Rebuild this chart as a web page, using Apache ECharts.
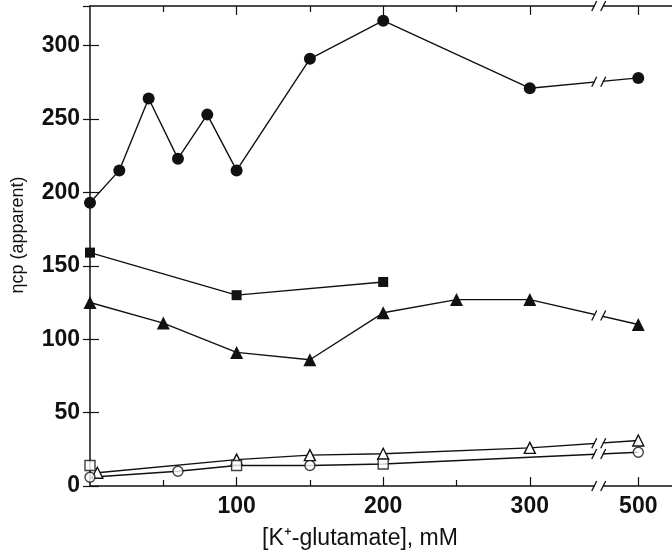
<!DOCTYPE html>
<html>
<head>
<meta charset="utf-8">
<script src="https://cdn.jsdelivr.net/npm/echarts@6/dist/echarts.min.js"></script>
<style>
  html, body { margin: 0; padding: 0; background: #fff; }
  #chart { width: 672px; height: 558px; }
</style>
</head>
<body>
<div id="chart"></div>
<script>
// values ([K+-glutamate] in mM, apparent ncp)
var filledCircleX = [0, 20, 40, 60, 80, 100, 150, 200, 300, 500];
var filledCircleY = [193, 215, 264, 223, 253, 215, 291, 317, 271, 278];
var filledSquareX = [0, 100, 200];
var filledSquareY = [159, 130, 139];
var filledTriangleX = [0, 50, 100, 150, 200, 250, 300, 500];
var filledTriangleY = [125, 111, 91, 86, 118, 127, 127, 110];
var openTriangleX = [5, 100, 150, 200, 300, 500];
var openTriangleY = [9, 18, 21, 22, 26, 31];
var openSquareX = [0, 100, 200];
var openSquareY = [14, 14, 15];
var openCircleX = [0, 60, 150, 500];
var openCircleY = [6, 10, 14, 23];
var xTickLabels = [100, 200, 300, 500];
var xMinorTicks = [50, 150, 250];

// broken x axis: beyond 300 mM the scale is compressed
var BREAK_AT = 300, SQUEEZE = 0.37, BREAK_MARK = 347;
function mapX(v) { return v <= BREAK_AT ? v : BREAK_AT + (v - BREAK_AT) * SQUEEZE; }
function unmapX(m) { return m <= BREAK_AT ? m : Math.round(BREAK_AT + (m - BREAK_AT) / SQUEEZE); }
function pairs(xs, ys) { return xs.map(function (x, i) { return [mapX(x), ys[i]]; }); }

// lower open line runs through circles and the squares after x = 0
var lowerLine = pairs(openCircleX, openCircleY)
  .concat(pairs(openSquareX, openSquareY).filter(function (p) { return p[0] > 0; }))
  .sort(function (a, b) { return a[0] - b[0]; });

// where a line crosses the break mark
function crossAt(data, m) {
  for (var i = 1; i < data.length; i++) {
    if (data[i - 1][0] <= m && data[i][0] >= m) {
      var t = (m - data[i - 1][0]) / (data[i][0] - data[i - 1][0]);
      return [m, data[i - 1][1] + t * (data[i][1] - data[i - 1][1])];
    }
  }
  return null;
}

var X_MAX = 397, Y_MAX = 327;
var lineSets = [pairs(filledCircleX, filledCircleY), pairs(filledTriangleX, filledTriangleY),
  pairs(openTriangleX, openTriangleY), lowerLine];
var breakPts = lineSets.map(function (d) { return crossAt(d, BREAK_MARK); })
  .concat([[BREAK_MARK, 0], [BREAK_MARK, Y_MAX]]);

var font = '"Liberation Sans Narrow", "Liberation Sans", Arial, sans-serif';
var plain = '"Liberation Sans", Arial, sans-serif';
var black = '#111';

function xAx(pos, vals, len, showLine, showLabel) {
  return {
    type: 'value', position: pos, min: 0, max: X_MAX,
    axisLine: { show: showLine, lineStyle: { color: black, width: 1.5 } },
    splitLine: { show: false },
    axisTick: { show: true, inside: true, length: len, customValues: vals, lineStyle: { color: black, width: 1.2 } },
    axisLabel: {
      show: showLabel, customValues: vals, margin: 9, color: black, fontSize: 23, fontWeight: 'bold', fontFamily: font,
      formatter: function (v) { return String(unmapX(v)); }
    }
  };
}

var mapped = xTickLabels.map(mapX);
var xAxes = [
  xAx('bottom', mapped, 9, true, true),
  xAx('bottom', xMinorTicks, 6, false, false),
  xAx('top', mapped, 9, true, false),
  xAx('top', xMinorTicks, 6, false, false)
];
xAxes[0].name = '[K\u207A-glutamate], mM';
xAxes[0].nameLocation = 'middle';
xAxes[0].nameGap = 41;
xAxes[0].nameTextStyle = { color: black, fontSize: 23, fontFamily: plain, padding: [0, 42, 0, 0] };

var chart = echarts.init(document.getElementById('chart'));
chart.setOption({
  animation: false,
  backgroundColor: '#fff',
  grid: { left: 90, top: 6, right: 0, bottom: 72 },
  xAxis: xAxes,
  yAxis: [{
    type: 'value', position: 'left', min: 0, max: Y_MAX, interval: 50,
    name: '\u03B7cp (apparent)', nameLocation: 'middle', nameGap: 63,
    nameTextStyle: { color: black, fontSize: 18, fontFamily: plain, padding: [0, 0, 0, 22] },
    axisLine: { show: true, lineStyle: { color: black, width: 1.5 } },
    axisTick: { inside: true, length: 9, lineStyle: { color: black, width: 1.2 } },
    splitLine: { show: false },
    axisLabel: { margin: 10, color: black, fontSize: 23, fontWeight: 'bold', fontFamily: font, showMaxLabel: false }
  }, {
    type: 'value', position: 'right', min: 0, max: Y_MAX, interval: 50,
    axisLine: { show: false },
    axisTick: { show: true, inside: true, length: 7, lineStyle: { color: black, width: 1.2 } },
    splitLine: { show: false },
    axisLabel: { show: false }
  }],
  series: [
    {
      type: 'line', data: pairs(filledCircleX, filledCircleY), symbol: 'circle', symbolSize: 12,
      itemStyle: { color: black }, lineStyle: { color: black, width: 1.4 }, z: 3
    },
    {
      type: 'line', data: pairs(filledSquareX, filledSquareY), symbol: 'rect', symbolSize: 10,
      itemStyle: { color: black }, lineStyle: { color: black, width: 1.4 }, z: 3
    },
    {
      type: 'line', data: pairs(filledTriangleX, filledTriangleY), symbol: 'triangle', symbolSize: 13,
      itemStyle: { color: black }, lineStyle: { color: black, width: 1.4 }, z: 3
    },
    {
      type: 'line', data: pairs(openTriangleX, openTriangleY), symbol: 'triangle', symbolSize: 11,
      itemStyle: { color: '#fff', borderColor: black, borderWidth: 1.4 }, lineStyle: { color: black, width: 1.4 }, z: 4
    },
    {
      type: 'line', data: lowerLine, showSymbol: false, symbol: 'none',
      lineStyle: { color: black, width: 1.4 }, z: 3
    },
    {
      type: 'scatter', data: pairs(openSquareX, openSquareY), symbol: 'rect', symbolSize: 10,
      itemStyle: { color: '#fff', borderColor: black, borderWidth: 1.4 }, z: 5
    },
    {
      type: 'scatter', data: pairs(openCircleX, openCircleY), symbol: 'circle', symbolSize: 10,
      itemStyle: { color: '#fff', borderColor: black, borderWidth: 1.4 }, z: 5
    },
    {
      // the "//" break marks on the axes and lines
      type: 'custom', data: breakPts, clip: false, z: 6, silent: true,
      renderItem: function (params, api) {
        var p = api.coord([api.value(0), api.value(1)]);
        var s = { stroke: black, lineWidth: 1.3 };
        return {
          type: 'group',
          children: [
            { type: 'rect', shape: { x: p[0] - 4, y: p[1] - 5, width: 8, height: 10 }, style: { fill: '#fff' } },
            { type: 'line', shape: { x1: p[0] - 7, y1: p[1] + 5, x2: p[0] - 2, y2: p[1] - 5 }, style: s },
            { type: 'line', shape: { x1: p[0] + 2, y1: p[1] + 5, x2: p[0] + 7, y2: p[1] - 5 }, style: s }
          ]
        };
      }
    }
  ]
});
</script>
</body>
</html>
